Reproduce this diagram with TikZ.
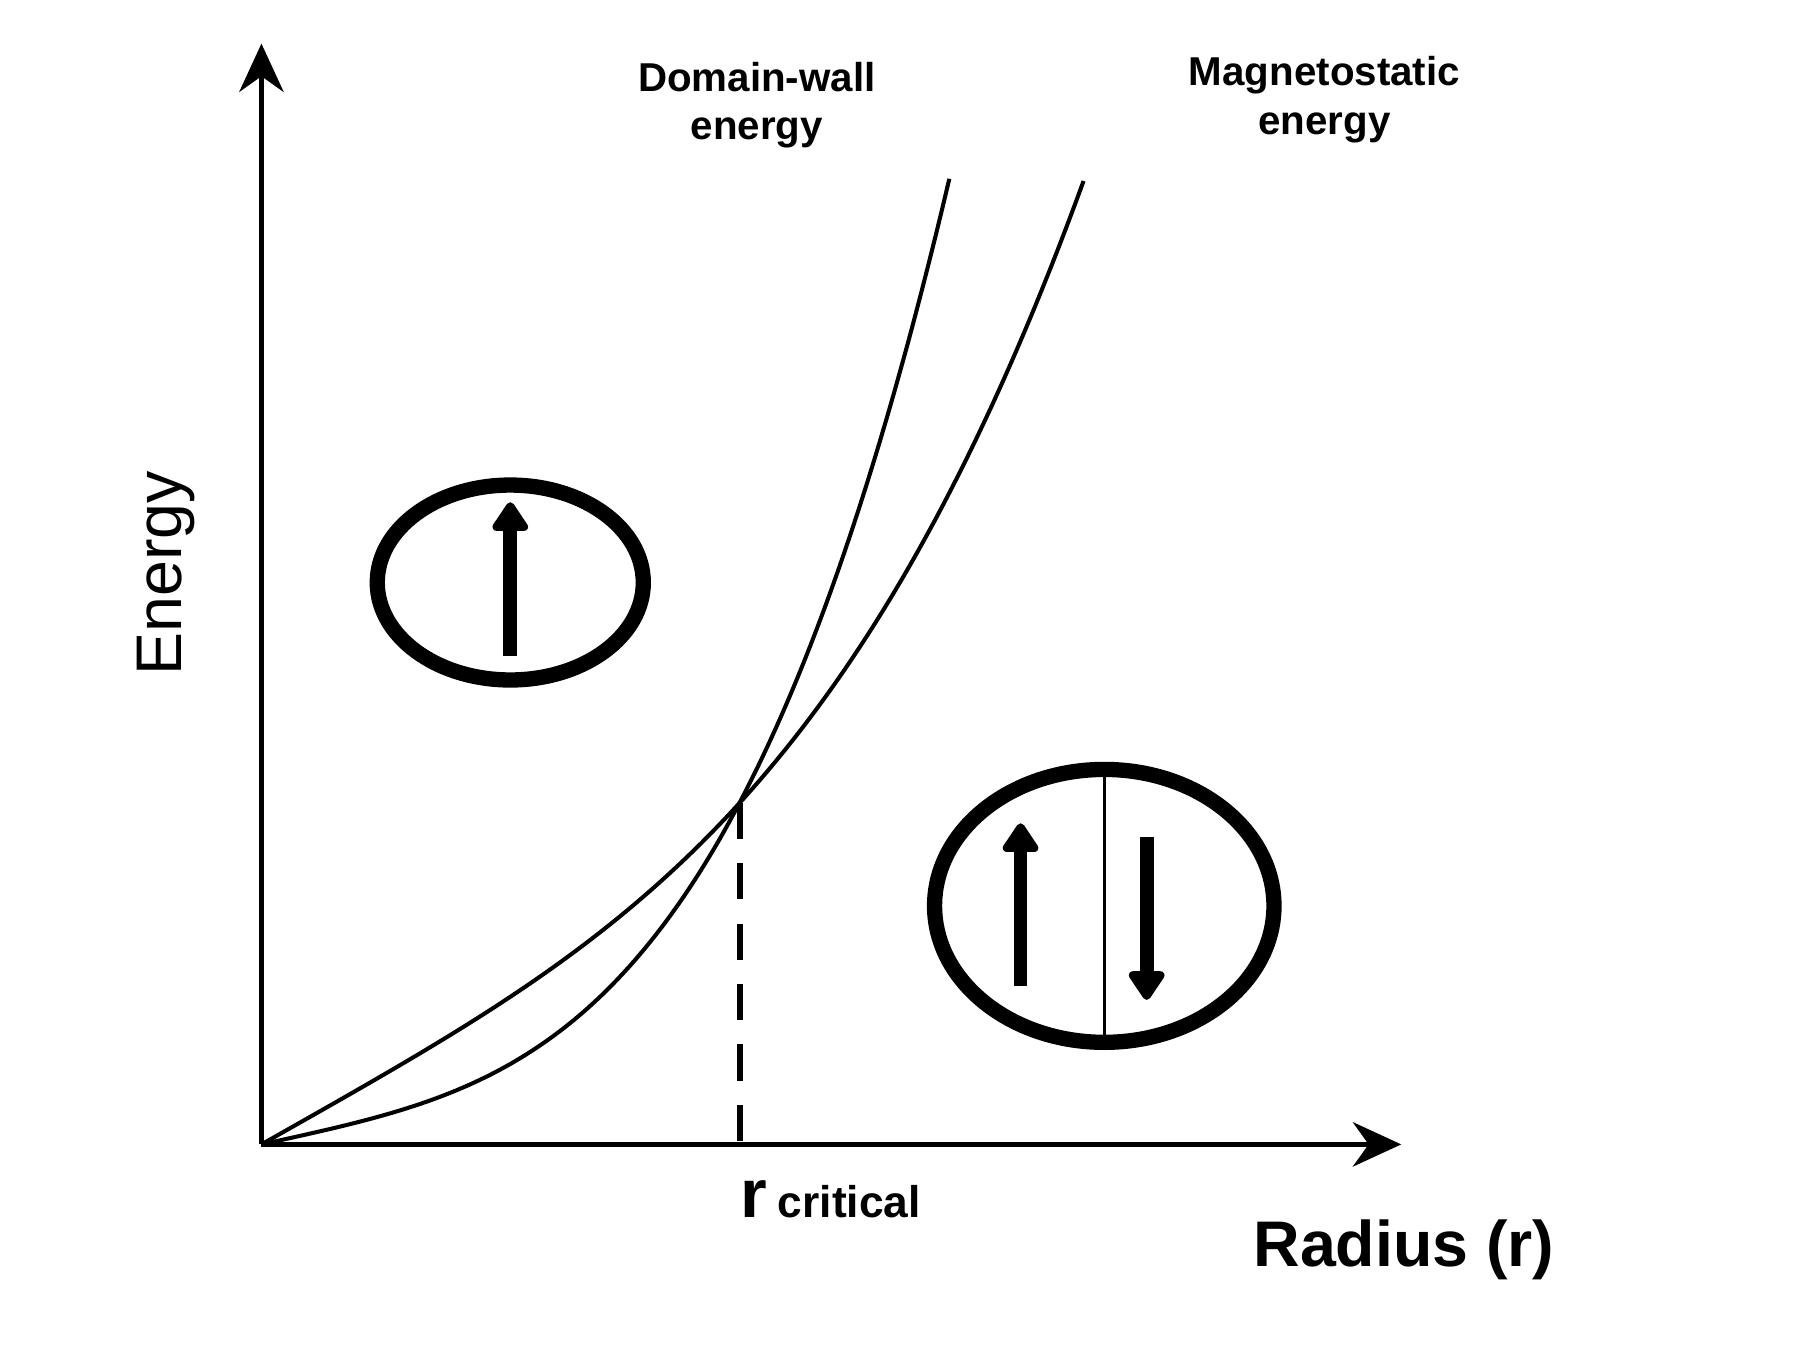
\documentclass[tikz,border=0pt]{standalone}
\usepackage{fontspec}
\setmainfont{Liberation Sans}
\usetikzlibrary{arrows.meta}
\begin{document}
\begin{tikzpicture}[
  ax/.style={line width=1.2pt,-{Stealth[length=12pt,width=11pt]}},
  crv/.style={line width=1pt},
  spin/.style={line width=3.4pt,-{Triangle[length=8pt,width=10pt,round]}},
  lbl/.style={font=\fontsize{10pt}{12pt}\selectfont\bfseries,align=center}]
\useasboundingbox[fill=white] (0,0) rectangle (15.68,11.80);
\coordinate (O) at (2.28,1.82);
\coordinate (Ytop) at (2.28,11.42);
\coordinate (Xend) at (12.22,1.82);
\draw[ax] (O) -- (Ytop);
\draw[ax] (O) -- (Xend);
% curves
\begin{scope}[shift={(O)}]
\draw[crv] plot[domain=0:6.0,samples=100] (\x,{0.220*\x+0.01606*(\x)^3.4});
\draw[crv] plot[domain=0:7.17,samples=100] (\x,{0.566*\x+0.00361*(\x)^3.6});
\end{scope}
\coordinate (X) at (6.45,4.80);
\coordinate (Xb) at (6.45,1.82);
\draw[line width=1.5pt,dash pattern=on 9pt off 6pt] (X) -- (Xb);
% left ring
\draw[line width=3.8pt] (4.45,6.72) ellipse [x radius=1.16,y radius=0.85];
\coordinate (a1) at (4.45,6.08); \coordinate (a2) at (4.45,7.42);
\draw[spin] (a1) -- (a2);
% right ring
\draw[line width=3.8pt] (9.63,3.90) ellipse [x radius=1.48,y radius=1.19];
\coordinate (w1) at (9.63,5.12); \coordinate (w2) at (9.63,2.70);
\draw[line width=0.7pt] (w1) -- (w2);
\coordinate (u1) at (8.90,3.20); \coordinate (u2) at (8.90,4.62);
\draw[spin] (u1) -- (u2);
\coordinate (d1) at (10.00,4.50); \coordinate (d2) at (10.00,3.08);
\draw[spin] (d1) -- (d2);
% labels
\node[lbl] (dw) at (6.60,10.88) {Domain-wall\\energy};
\node[lbl] (ms) at (11.55,10.93) {Magnetostatic\\energy};
\node[rotate=90,font=\fontsize{16pt}{18pt}\selectfont] (en) at (1.45,6.80) {Energy};
\node[font=\fontsize{16pt}{18pt}\selectfont\bfseries,anchor=east] (rad) at (13.68,0.90) {Radius (r)};
\node[anchor=base west,font=\fontsize{17pt}{18pt}\selectfont\bfseries] (rc) at (6.33,1.18) {r};
\node[anchor=base west,font=\fontsize{11pt}{13pt}\selectfont\bfseries] (crit) at (6.66,1.18) {critical};
\end{tikzpicture}
\end{document}
